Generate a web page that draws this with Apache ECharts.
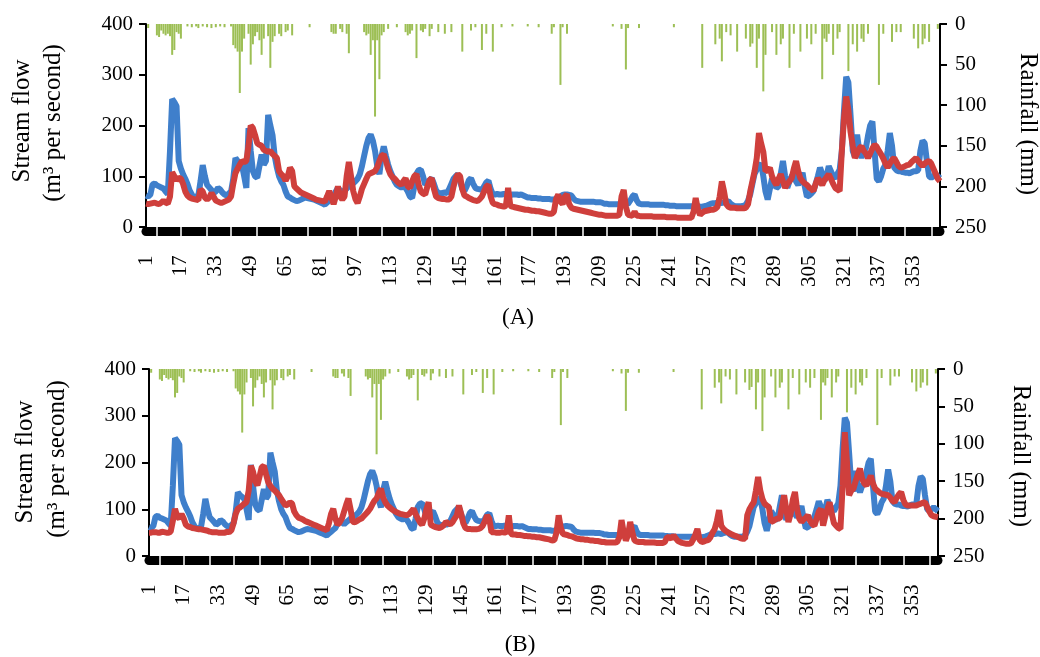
<!DOCTYPE html>
<html>
<head>
<meta charset="utf-8">
<script src="https://cdn.jsdelivr.net/npm/echarts@6/dist/echarts.min.js"></script>
<style>
  html, body { margin: 0; padding: 0; background: #fff; }
  #main { width: 1040px; height: 657px; }
</style>
</head>
<body>
<div id="main"></div>
<script>
// day numbers along the x axis
const days = Array.from({ length: 365 }, (_, i) => String(i + 1));

// observed stream flow (m3/s), same in both panels
const observed = [
  62, 60, 64, 84, 86, 82, 80, 78, 76, 70,
  65, 150, 252, 246, 238, 130, 115, 104, 95, 85,
  72, 64, 58, 60, 62, 90, 122, 100, 83, 78,
  73, 67, 70, 77, 74, 68, 64, 62, 66, 70,
  95, 136, 130, 126, 122, 100, 77, 195, 150, 110,
  100, 97, 120, 143, 123, 130, 221, 200, 181, 140,
  117, 100, 90, 83, 70, 60, 58, 55, 53, 51,
  52, 54, 56, 58, 57, 56, 55, 54, 52, 50,
  48, 46, 44, 48, 52, 56, 60, 70, 77, 72,
  68, 72, 76, 80, 83, 86, 90, 95, 104, 120,
  140, 160, 175, 182, 170, 150, 120, 104, 140, 159,
  140, 123, 110, 100, 90, 83, 80, 78, 80, 77,
  70, 60, 57, 80, 105, 112, 113, 100, 83, 88,
  92, 96, 85, 72, 67, 66, 67, 68, 67, 75,
  85, 95, 100, 104, 90, 75, 71, 80, 92, 96,
  85, 77, 75, 74, 73, 80, 88, 91, 75, 64,
  64, 65, 64, 64, 65, 64, 64, 63, 64, 64,
  64, 63, 64, 62, 60, 58, 58, 57, 57, 57,
  56, 56, 55, 55, 55, 55, 54, 54, 56, 58,
  60, 63, 64, 64, 63, 62, 56, 52, 51, 50,
  50, 50, 50, 50, 50, 50, 49, 49, 49, 48,
  46, 46, 45, 45, 45, 45, 45, 45, 45, 45,
  45, 46, 52, 60, 64, 52, 46, 45, 45, 45,
  45, 44, 44, 44, 44, 44, 44, 44, 43, 43,
  42, 42, 42, 41, 41, 41, 41, 41, 41, 41,
  41, 41, 41, 41, 40, 40, 41, 42, 44, 46,
  47, 47, 48, 48, 47, 49, 50, 51, 46, 43,
  41, 41, 41, 41, 42, 44, 52, 64, 85, 105,
  113, 120, 125, 100, 70, 54, 75, 96, 88, 77,
  80, 105, 130, 100, 77, 90, 100, 104, 90, 83,
  95, 107, 80, 60, 62, 66, 71, 85, 100, 117,
  105, 91, 100, 120, 110, 100, 96, 105, 113, 150,
  230, 296, 285, 220, 150, 138, 182, 150, 136, 150,
  155, 180, 200, 208, 150, 95, 90, 100, 115, 123,
  150, 185, 160, 117, 112, 110, 110, 108, 107, 107,
  106, 108, 110, 110, 112, 150, 170, 165, 130, 100,
  97, 100, 104, 100, 96
];

// simulated stream flow, panel (A)
const simulatedA = [
  46, 45, 46, 47, 48, 46, 45, 48, 52, 48,
  46, 60, 108, 100, 92, 97, 95, 85, 70, 62,
  58, 56, 55, 54, 53, 74, 70, 58, 54, 58,
  67, 60, 52, 50, 48, 48, 50, 52, 54, 60,
  85, 106, 115, 123, 130, 128, 130, 160, 200, 195,
  181, 165, 162, 160, 152, 150, 148, 150, 144, 140,
  136, 110, 104, 100, 91, 100, 117, 110, 80, 76,
  72, 68, 66, 64, 62, 60, 58, 56, 54, 53,
  52, 51, 50, 60, 71, 58, 45, 60, 80, 60,
  54, 60, 100, 128, 100, 71, 55, 47, 60, 75,
  85, 95, 104, 106, 108, 110, 118, 130, 140, 143,
  130, 115, 104, 98, 95, 90, 86, 83, 90, 96,
  80, 77, 90, 100, 104, 83, 70, 66, 64, 80,
  92, 96, 75, 60, 57, 56, 55, 55, 54, 54,
  60, 80, 96, 104, 100, 75, 62, 60, 57, 55,
  53, 52, 51, 55, 60, 70, 80, 83, 60, 47,
  45, 44, 42, 41, 40, 42, 77, 42, 40, 39,
  38, 37, 36, 35, 34, 34, 33, 32, 32, 31,
  31, 30, 29, 28, 27, 26, 26, 30, 55, 64,
  50, 45, 60, 64, 45, 38, 36, 35, 34, 33,
  32, 31, 30, 29, 28, 27, 26, 25, 24, 24,
  23, 22, 22, 22, 22, 22, 22, 24, 60, 73,
  40, 24, 23, 22, 30, 22, 22, 21, 21, 21,
  21, 21, 21, 20, 20, 20, 20, 20, 20, 19,
  19, 19, 19, 19, 18, 18, 18, 18, 18, 18,
  18, 30, 57, 35, 24, 28, 31, 32, 33, 34,
  34, 36, 40, 60, 90, 70, 45, 40, 38, 38,
  38, 37, 37, 37, 37, 38, 45, 70, 90, 110,
  136, 185, 165, 148, 110, 112, 117, 100, 90, 83,
  95, 104, 90, 77, 85, 90, 96, 115, 130, 110,
  96, 90, 86, 83, 78, 75, 71, 85, 96, 90,
  83, 92, 98, 104, 95, 85, 77, 74, 71, 150,
  215, 257, 230, 187, 160, 136, 145, 155, 159, 150,
  145, 136, 145, 155, 162, 158, 150, 143, 135, 125,
  117, 125, 132, 136, 128, 120, 117, 118, 120, 122,
  123, 128, 132, 136, 130, 125, 120, 125, 128, 130,
  125, 115, 105, 95, 90
];

// simulated stream flow, panel (B)
const simulatedB = [
  50, 50, 51, 51, 50, 50, 52, 51, 50, 50,
  52, 75, 101, 85, 80, 90, 80, 67, 63, 62,
  60, 59, 58, 57, 57, 56, 55, 54, 52, 51,
  51, 51, 50, 50, 50, 50, 52, 51, 55, 70,
  90, 101, 104, 108, 112, 115, 140, 193, 180, 160,
  151, 170, 190, 193, 175, 158, 150, 144, 140, 135,
  130, 122, 115, 108, 110, 115, 112, 95, 87, 82,
  80, 78, 75, 73, 71, 69, 67, 65, 63, 61,
  59, 57, 55, 70, 90, 101, 80, 67, 72, 80,
  95, 110, 123, 100, 73, 72, 75, 78, 80, 85,
  90, 95, 101, 110, 118, 123, 135, 144, 125, 115,
  108, 104, 100, 97, 94, 92, 90, 89, 88, 87,
  90, 95, 101, 90, 80, 72, 67, 80, 100, 115,
  67, 64, 62, 61, 60, 62, 66, 73, 70, 68,
  72, 80, 87, 108, 90, 70, 60, 58, 58, 57,
  57, 57, 58, 60, 65, 75, 87, 80, 51, 51,
  50, 50, 50, 51, 50, 52, 87, 47, 46, 46,
  45, 45, 44, 43, 43, 42, 42, 41, 41, 40,
  40, 39, 38, 37, 36, 35, 33, 34, 50, 87,
  60, 47, 46, 45, 43, 42, 40, 38, 37, 36,
  36, 35, 35, 34, 33, 33, 32, 32, 31, 30,
  30, 29, 29, 29, 29, 29, 30, 40, 77, 50,
  33, 45, 73, 50, 33, 31, 30, 30, 30, 29,
  29, 29, 29, 29, 28, 28, 28, 28, 30, 40,
  40, 37, 44, 38, 32, 30, 28, 27, 26, 26,
  27, 35, 45, 58, 35, 30, 31, 33, 34, 40,
  50, 58, 75, 98, 65, 58, 54, 51, 48, 46,
  44, 42, 40, 38, 37, 37, 87, 100, 108, 115,
  140, 169, 140, 122, 112, 108, 105, 73, 75, 78,
  80, 80, 105, 130, 100, 73, 90, 120, 137, 100,
  80, 73, 78, 82, 87, 75, 68, 65, 80, 95,
  101, 65, 85, 100, 115, 90, 70, 65, 60, 58,
  150, 265, 201, 130, 140, 144, 160, 175, 187, 165,
  155, 151, 160, 172, 155, 144, 140, 136, 133, 132,
  131, 130, 125, 118, 115, 125, 132, 137, 120, 110,
  108, 108, 108, 108, 108, 110, 112, 114, 115, 105,
  95, 87, 85, 84, 83
];

// daily rainfall (mm), hangs from the top on the inverted right axis
const rainfall = [
  0, 5, 0, 0, 0, 14, 16, 8, 12, 14,
  12, 15, 38, 32, 10, 12, 18, 0, 0, 3,
  0, 4, 0, 3, 5, 0, 3, 0, 4, 0,
  5, 0, 4, 0, 3, 0, 4, 0, 0, 3,
  26, 30, 34, 85, 34, 18, 0, 12, 50, 25,
  15, 10, 20, 38, 18, 0, 15, 54, 22, 15,
  0, 12, 15, 0, 10, 8, 0, 14, 0, 0,
  0, 0, 0, 0, 0, 4, 0, 0, 0, 0,
  0, 0, 0, 0, 0, 10, 12, 12, 0, 6,
  10, 0, 12, 36, 0, 0, 0, 0, 0, 0,
  10, 14, 12, 38, 20, 114, 20, 68, 14, 10,
  0, 6, 0, 0, 0, 4, 0, 0, 0, 10,
  14, 12, 8, 0, 42, 0, 8, 10, 6, 0,
  15, 6, 0, 0, 10, 0, 0, 12, 0, 0,
  10, 0, 0, 0, 0, 34, 0, 0, 0, 8,
  0, 4, 0, 0, 32, 0, 12, 0, 0, 34,
  0, 0, 0, 4, 0, 0, 0, 0, 3, 0,
  0, 0, 0, 0, 0, 3, 0, 0, 0, 0,
  4, 0, 0, 0, 0, 0, 12, 4, 0, 0,
  75, 4, 0, 12, 0, 0, 0, 0, 0, 0,
  0, 0, 0, 0, 0, 0, 0, 0, 0, 0,
  0, 0, 0, 0, 3, 0, 0, 0, 6, 0,
  56, 5, 0, 0, 0, 0, 5, 0, 0, 0,
  0, 0, 0, 0, 0, 0, 0, 0, 0, 0,
  0, 0, 4, 0, 0, 0, 0, 0, 0, 0,
  0, 0, 0, 0, 0, 54, 0, 0, 0, 0,
  0, 25, 0, 18, 46, 0, 10, 0, 14, 0,
  0, 34, 0, 0, 0, 18, 0, 28, 24, 0,
  54, 18, 0, 83, 38, 0, 0, 10, 0, 38,
  0, 25, 18, 0, 0, 54, 0, 12, 0, 0,
  34, 0, 0, 18, 0, 25, 0, 12, 0, 0,
  68, 18, 22, 12, 0, 38, 0, 18, 10, 0,
  0, 0, 58, 0, 25, 0, 34, 0, 18, 22,
  0, 12, 0, 0, 0, 0, 75, 0, 12, 0,
  0, 0, 22, 0, 10, 0, 10, 0, 0, 0,
  0, 0, 18, 0, 30, 0, 25, 18, 0, 22,
  0, 0, 0, 6, 0
];

const flowTicks = [0, 100, 200, 300, 400];
const rainTicks = [0, 50, 100, 150, 200, 250];

const FONT = 'Liberation Serif';
const BLUE = '#3f7fcb';
const RED = '#cf3f3c';
const GREEN = '#9dbf55';

// white gaps in the black axis band, roughly every 11-12 days
function bandTick(i) {
  return Math.floor((i + 7) / 11.45) !== Math.floor((i + 6) / 11.45);
}

function xAxes(grid) {
  return [
    {
      gridIndex: grid, type: 'category', data: days, boundaryGap: false,
      position: 'bottom', offset: 4.5,
      axisLine: { onZero: false, lineStyle: { color: '#000', width: 9 } },
      axisTick: { inside: true, length: 5, interval: bandTick, lineStyle: { color: '#fff', width: 1.5 } },
      axisLabel: { interval: 15, rotate: 90, margin: 24, fontFamily: FONT, fontSize: 21, color: '#000' }
    },
    {
      gridIndex: grid, type: 'category', data: days, boundaryGap: false,
      position: 'bottom', offset: 4.5,
      axisLine: { show: false, onZero: false },
      axisTick: { inside: false, length: 4.5, interval: bandTick, lineStyle: { color: '#fff', width: 1.5 } },
      axisLabel: { show: false }
    }
  ];
}

function yAxes(grid) {
  return [
    {
      gridIndex: grid, type: 'value', position: 'left',
      min: flowTicks[0], max: flowTicks[flowTicks.length - 1], interval: 100,
      splitLine: { show: false },
      axisLine: { show: true, onZero: false, lineStyle: { color: '#000', width: 2 } },
      axisTick: { show: true, length: 7, lineStyle: { color: '#000', width: 2 } },
      axisLabel: { margin: 13, fontFamily: FONT, fontSize: 21, color: '#000' }
    },
    {
      gridIndex: grid, type: 'value', position: 'right', inverse: true,
      min: rainTicks[0], max: rainTicks[rainTicks.length - 1], interval: 50,
      splitLine: { show: false },
      axisLine: { show: true, onZero: false, lineStyle: { color: '#000', width: 2 } },
      axisTick: { show: true, length: 7, lineStyle: { color: '#000', width: 2 } },
      axisLabel: { margin: 15, fontFamily: FONT, fontSize: 21, color: '#000' }
    }
  ];
}

function panelSeries(xi, yi, simulated) {
  return [
    { type: 'bar', xAxisIndex: xi, yAxisIndex: yi + 1, data: rainfall, barWidth: 2,
      itemStyle: { color: GREEN } },
    { type: 'line', xAxisIndex: xi, yAxisIndex: yi, data: observed, symbol: 'none',
      lineStyle: { color: BLUE, width: 6 }, itemStyle: { color: BLUE } },
    { type: 'line', xAxisIndex: xi, yAxisIndex: yi, data: simulated, symbol: 'none',
      lineStyle: { color: RED, width: 6 }, itemStyle: { color: RED } }
  ];
}

function rotText(x, y, text, rot, size) {
  return {
    type: 'text', x: x, y: y, rotation: rot,
    style: { text: text, font: size + 'px "' + FONT + '"', fill: '#000', align: 'center', verticalAlign: 'middle' }
  };
}

const chart = echarts.init(document.getElementById('main'));
chart.setOption({
  animation: false,
  backgroundColor: '#fff',
  grid: [
    { left: 146, right: 100, top: 24, height: 203 },
    { left: 149, right: 102, top: 369, height: 187 }
  ],
  xAxis: [...xAxes(0), ...xAxes(1)],
  yAxis: [...yAxes(0), ...yAxes(1)],
  series: [...panelSeries(0, 0, simulatedA), ...panelSeries(2, 2, simulatedB)],
  graphic: [
    rotText(22, 121, 'Stream flow', Math.PI / 2, 25),
    rotText(53, 123, '(m³ per second)', Math.PI / 2, 25),
    rotText(1028, 124, 'Rainfall (mm)', -Math.PI / 2, 25),
    rotText(518, 318, '(A)', 0, 23),
    rotText(25, 462, 'Stream flow', Math.PI / 2, 25),
    rotText(57, 459, '(m³ per second)', Math.PI / 2, 25),
    rotText(1021, 456, 'Rainfall (mm)', -Math.PI / 2, 25),
    rotText(520, 645, '(B)', 0, 23)
  ]
});
</script>
</body>
</html>
